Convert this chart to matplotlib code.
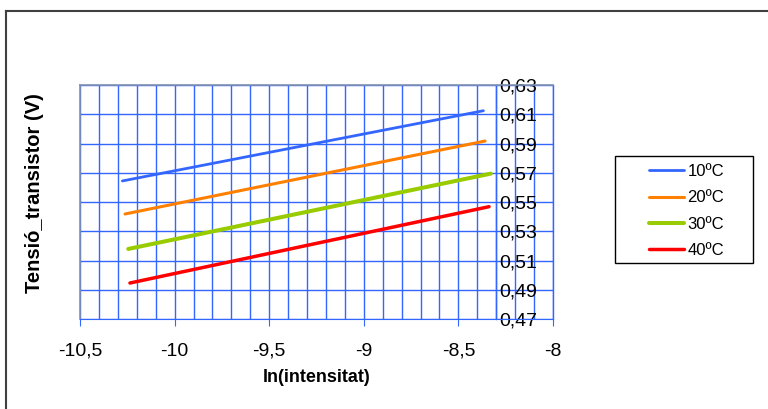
import matplotlib
matplotlib.use("Agg")
import matplotlib.pyplot as plt
from matplotlib.lines import Line2D
from matplotlib.patches import Rectangle
from matplotlib.ticker import MultipleLocator, FixedLocator, FuncFormatter

plt.rcParams['font.family'] = ['Liberation Sans', 'DejaVu Sans']

# data (start and end of each fitted line)
ln_i_10 = [-10.276, -8.368]
v_10 = [0.5644, 0.6124]
ln_i_20 = [-10.262, -8.359]
v_20 = [0.5418, 0.5917]
ln_i_30 = [-10.245, -8.329]
v_30 = [0.5179, 0.5694]
ln_i_40 = [-10.236, -8.338]
v_40 = [0.4946, 0.5468]
labels = ['10ºC', '20ºC', '30ºC', '40ºC']
y_ticks = [0.47, 0.49, 0.51, 0.53, 0.55, 0.57, 0.59, 0.61, 0.63]

GRID = '#3366FF'


def comma(v, pos=None):
    return ('%g' % round(v, 3)).replace('.', ',')


W, H = 768, 409
fig = plt.figure(figsize=(W / 100, H / 100), dpi=100)
ax = fig.add_axes([80 / W, 1 - 319 / H, 473 / W, 234 / H])

ax.plot(ln_i_10, v_10, color='#3366FF', lw=2.0, solid_capstyle='round', label=labels[0])
ax.plot(ln_i_20, v_20, color='#FF8000', lw=2.2, solid_capstyle='round', label=labels[1])
ax.plot(ln_i_30, v_30, color='#99CC00', lw=2.9, solid_capstyle='round', label=labels[2])
ax.plot(ln_i_40, v_40, color='#FF0000', lw=2.5, solid_capstyle='round', label=labels[3])

ax.set_xlim(-10.5, -8)
ax.set_ylim(0.47, 0.63)
ax.xaxis.set_major_locator(MultipleLocator(0.5))
ax.xaxis.set_minor_locator(MultipleLocator(0.1))
ax.yaxis.set_major_locator(FixedLocator(y_ticks))
ax.xaxis.set_major_formatter(FuncFormatter(comma))
ax.yaxis.set_major_formatter(FuncFormatter(comma))

ax.set_axisbelow(True)
ax.grid(True, which='both', axis='x', color=GRID, lw=1)
ax.grid(True, which='major', axis='y', color=GRID, lw=1)
ax.axvline(-8, color=GRID, lw=1, clip_on=False)

# y axis sits at x = -8.3 with labels on its right
ax.yaxis.tick_right()
ax.spines['right'].set_position(('data', -8.3))
ax.spines['right'].set_color(GRID)
ax.spines['right'].set_linewidth(1)
ax.tick_params(axis='y', length=0, pad=2, labelsize=14)
ax.tick_params(axis='x', which='major', length=5, color=GRID, pad=12, labelsize=14)
ax.tick_params(axis='x', which='minor', length=0)
ax.spines['bottom'].set_color(GRID)
for s in ['left', 'top']:
    ax.spines[s].set_color('#8090B0')
    ax.spines[s].set_linewidth(1.2)

ax.set_xlabel('ln(intensitat)', fontsize=13, fontweight='bold', labelpad=7)
fig.text(35 / W, 1 - 193 / H, 'Tensió_transistor (V)', rotation=90,
         fontsize=14.5, fontweight='bold', ha='center', va='center')

# legend with its own box
fig.add_artist(Rectangle((615 / W, 1 - 263 / H), 138 / W, 107 / H,
                         transform=fig.transFigure, fill=False, ec='black', lw=1))
handles, lbls = ax.get_legend_handles_labels()
fig.legend(handles, lbls, loc='upper left', bbox_to_anchor=(649 / W, 1 - 164 / H),
           frameon=False, fontsize=12, handlelength=2.1, handletextpad=0.2,
           labelspacing=0.68, borderpad=0, borderaxespad=0)

# outer chart frame
fig.add_artist(Line2D([6 / W, 1.0], [1 - 11 / H, 1 - 11 / H], transform=fig.transFigure,
                      color='#404040', lw=1.5))
fig.add_artist(Line2D([6 / W, 6 / W], [0, 1 - 11 / H], transform=fig.transFigure,
                      color='#404040', lw=1.5))

fig.savefig('out.png', dpi=100)
